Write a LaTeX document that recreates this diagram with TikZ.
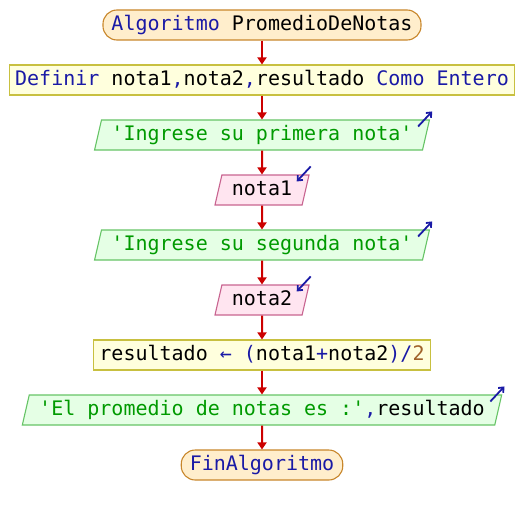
\documentclass[tikz,border=0pt]{standalone}
\usepackage{fontspec}
\setmonofont{DejaVu Sans Mono}
\usetikzlibrary{shapes.geometric,arrows.meta}

\definecolor{kw}{HTML}{1A1AA6}
\definecolor{str}{HTML}{009A00}
\definecolor{num}{HTML}{A0622A}
\definecolor{flecha}{HTML}{CC0000}
\definecolor{termborde}{HTML}{C8862A}
\definecolor{termfondo}{HTML}{FFEECC}
\definecolor{procborde}{HTML}{C8C040}
\definecolor{procfondo}{HTML}{FFFFDD}
\definecolor{salborde}{HTML}{66C466}
\definecolor{salfondo}{HTML}{E5FFE5}
\definecolor{entborde}{HTML}{C86490}
\definecolor{entfondo}{HTML}{FFE5F0}

\tikzset{
  base/.style={font=\ttfamily\fontsize{20}{24}\selectfont, line width=1.1pt,
    minimum height=30pt, inner ysep=0pt, text height=15pt, text depth=4pt},
  terminal/.style={base, draw=termborde, fill=termfondo,
    rounded corners=14pt, inner xsep=8.5pt},
  proceso/.style={base, draw=procborde, fill=procfondo, inner xsep=6pt},
  salida/.style={base, trapezium, trapezium left angle=70, trapezium right angle=110,
    trapezium stretches=true, draw=salborde, fill=salfondo, inner xsep=10pt},
  entrada/.style={base, trapezium, trapezium left angle=70, trapezium right angle=110,
    trapezium stretches=true, draw=entborde, fill=entfondo, inner xsep=10pt},
  paso/.style={draw=flecha, line width=2pt, -{Triangle[width=9pt,length=7pt]}},
  marca/.style={draw=kw, line width=1.8pt, -{Straight Barb[width=7pt,length=4pt]}}
}

\begin{document}
\begin{tikzpicture}[x=1pt,y=1pt]
  \useasboundingbox (0,0) rectangle (524,515);

  \node[terminal] (inicio) at (262,490) {\textcolor{kw}{Algoritmo} PromedioDeNotas};
  \node[proceso] (definir) at (262,435) {\textcolor{kw}{Definir} nota1\textcolor{kw}{,}nota2\textcolor{kw}{,}resultado \textcolor{kw}{Como Entero}};
  \node[salida] (escribir1) at (262,380) {\textcolor{str}{'Ingrese su primera nota'}};
  \node[entrada] (leer1) at (262,325) {nota1};
  \node[salida] (escribir2) at (262,270) {\textcolor{str}{'Ingrese su segunda nota'}};
  \node[entrada] (leer2) at (262,215) {nota2};
  \node[proceso] (asignar) at (262,160) {resultado \textcolor{kw}{← (}nota1\textcolor{kw}{+}nota2\textcolor{kw}{)/}\textcolor{num}{2}};
  \node[salida] (escribir3) at (262,105) {\textcolor{str}{'El promedio de notas es :'}\textcolor{kw}{,}resultado};
  \node[terminal] (fin) at (262,50) {\textcolor{kw}{FinAlgoritmo}};

  \draw[paso] (inicio) -- (definir);
  \draw[paso] (definir) -- (escribir1);
  \draw[paso] (escribir1) -- (leer1);
  \draw[paso] (leer1) -- (escribir2);
  \draw[paso] (escribir2) -- (leer2);
  \draw[paso] (leer2) -- (asignar);
  \draw[paso] (asignar) -- (escribir3);
  \draw[paso] (escribir3) -- (fin);

  % marcas de entrada / salida
  \draw[marca] ([shift={(-12pt,-7pt)}]escribir1.top right corner) -- ++(14pt,15pt);
  \draw[marca] ([shift={(-12pt,-7pt)}]escribir2.top right corner) -- ++(14pt,15pt);
  \draw[marca] ([shift={(-12pt,-7pt)}]escribir3.top right corner) -- ++(14pt,15pt);
  \draw[marca] ([shift={(1pt,8pt)}]leer1.top right corner) -- ++(-14pt,-15pt);
  \draw[marca] ([shift={(1pt,8pt)}]leer2.top right corner) -- ++(-14pt,-15pt);
\end{tikzpicture}
\end{document}
